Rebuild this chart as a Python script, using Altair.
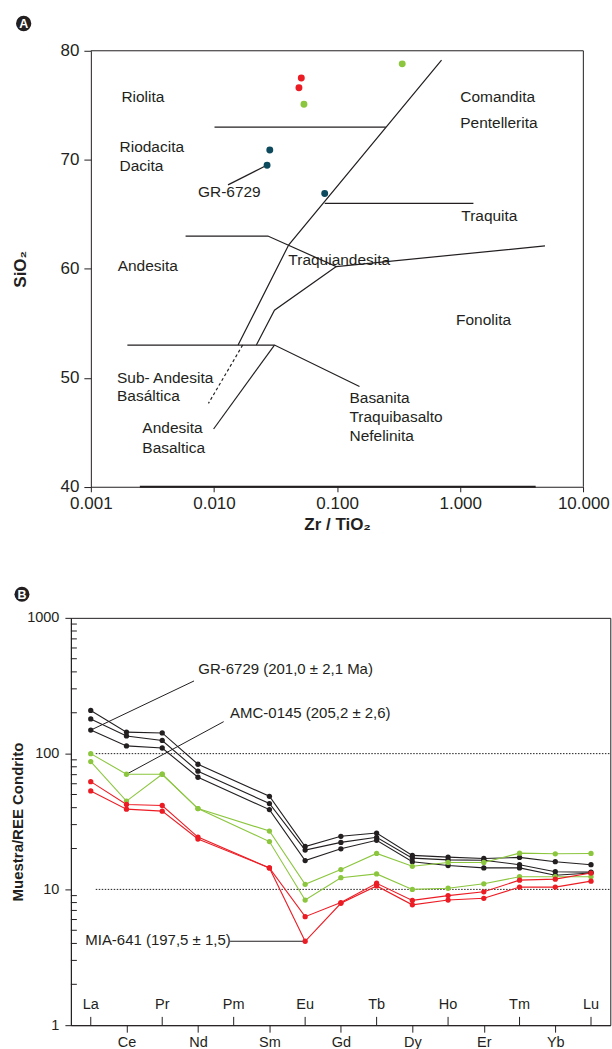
import json
import altair as alt
import pandas as pd

FONT = "Liberation Sans"
INK = "#231f20"
RED = "#ec1c24"
GREEN = "#8cc63f"
TEAL = "#0d4a5e"

# ---------------- Panel A : SiO2 vs Zr/TiO2 ----------------
a_zr_tio2 = [0.0512, 0.0490, 0.0538, 0.338, 0.0284, 0.0270, 0.0793]
a_sio2 = [77.5, 76.6, 75.1, 78.8, 70.9, 69.5, 66.9]
a_sample = ["MIA-641", "MIA-641", "AMC-0145", "AMC-0145", "GR-6729", "GR-6729", "GR-6729"]

line_riolita_x = [0.0101, 0.249]
line_riolita_y = [73.0, 73.0]
line_main_x = [0.705, 0.0405, 0.0157]
line_main_y = [79.15, 62.2, 53.0]
line_traquita_x = [0.0793, 1.28]
line_traquita_y = [66.0, 66.0]
line_andesita_x = [0.00588, 0.0274, 0.0985, 4.88]
line_andesita_y = [63.0, 63.0, 60.2, 62.1]
line_fonolita_x = [0.0985, 0.0310, 0.0221]
line_fonolita_y = [60.2, 56.2, 53.0]
line_basanita_x = [0.00198, 0.0310, 0.152]
line_basanita_y = [53.0, 53.0, 49.2]
line_basaltica_x = [0.0310, 0.00993]
line_basaltica_y = [53.0, 45.3]
leader_gr_x = [0.0130, 0.0259]
leader_gr_y = [67.7, 69.4]
dashed_x = [0.0171, 0.00902]
dashed_y = [53.0, 47.65]

region_text = ["Riolita", "Comandita", "Pentellerita", "Riodacita", "Dacita", "GR-6729",
               "Traquita", "Andesita", "Traquiandesita", "Fonolita", "Sub- Andesita",
               "Basáltica", "Andesita", "Basaltica", "Basanita", "Traquibasalto", "Nefelinita"]
region_x = [0.00177, 1.0, 1.0, 0.00171, 0.00171, 0.00741, 1.02, 0.00165, 0.0402, 0.925,
            0.00163, 0.00163, 0.00262, 0.00262, 0.126, 0.126, 0.126]
region_y = [75.8, 75.8, 73.4, 71.15, 69.4, 67.0, 64.8, 60.25, 60.8, 55.3,
            49.96, 48.3, 45.35, 43.6, 48.15, 46.4, 44.7]

a_xticks = [0.001, 0.01, 0.1, 1, 10]
a_yticks = [40, 50, 60, 70, 80]

# ---------------- Panel B : REE spider diagram ----------------
ree = ["La", "Ce", "Pr", "Nd", "Pm", "Sm", "Eu", "Gd", "Tb", "Dy", "Ho", "Er", "Tm", "Yb", "Lu"]
gr_1 = [208, 144, 142, 83.5, None, 48.5, 20.7, 24.6, 26.0, 17.8, 17.3, 16.9, 17.2, 16.0, 15.2]
gr_2 = [180, 135, 125, 74.2, None, 42.9, 19.5, 22.2, 24.2, 17.0, 16.5, 16.4, 15.2, 13.5, 13.4]
gr_3 = [149, 114, 110, 67.0, None, 38.7, 16.3, 19.9, 23.0, 16.0, 15.0, 14.4, 14.4, 12.7, 13.2]
amc_1 = [100, 70.5, 70.5, 39.4, None, 26.9, 10.9, 14.0, 18.4, 14.8, 15.8, 15.8, 18.5, 18.3, 18.4]
amc_2 = [87.3, 44.7, 70.5, 39.4, None, 22.5, 8.35, 12.2, 13.0, 10.0, 10.2, 11.0, 12.4, 12.4, 12.4]
mia_1 = [62.2, 42.2, 41.5, 24.3, None, 14.4, 6.3, 8.0, 11.1, 8.3, 9.0, 9.6, 11.7, 11.9, 13.2]
mia_2 = [53.1, 39.0, 37.7, 23.5, None, 14.4, 4.15, 7.9, 10.6, 7.7, 8.35, 8.6, 10.4, 10.4, 11.5]

b_minor_ticks = [m * d for d in (1, 10, 100) for m in range(2, 10)]
b_ref_levels = [100, 10]
b_ref_start = 0.14

ann_text = ["GR-6729 (201,0 ± 2,1 Ma)", "AMC-0145 (205,2 ± 2,6)", "MIA-641 (197,5 ± 1,5)"]
ann_idx = [3.01, 3.90, -0.154]
ann_val = [418, 198, 4.24]
leader_id = ["GR", "GR", "AMC", "AMC", "MIA", "MIA"]
leader_idx = [2.89, 0.0, 3.72, 1.0, 3.90, 6.0]
leader_val = [343, 149, 172, 70.5, 4.15, 4.15]

# ---------------- geometry ----------------
WA, HA, OFFA = 513.3, 436.7, 20
WB, HB = 540.3, 408
B_LO, B_HI = -0.556, 14.54

# ================= Panel A =================
pts_a = pd.DataFrame({"x": a_zr_tio2, "y": a_sio2, "sampleA": a_sample})

segs = {
    "riolita": (line_riolita_x, line_riolita_y),
    "main": (line_main_x, line_main_y),
    "traquita": (line_traquita_x, line_traquita_y),
    "andesita": (line_andesita_x, line_andesita_y),
    "fonolita": (line_fonolita_x, line_fonolita_y),
    "basanita": (line_basanita_x, line_basanita_y),
    "basaltica": (line_basaltica_x, line_basaltica_y),
    "leader": (leader_gr_x, leader_gr_y),
}
rows = []
for name, (xs, ys) in segs.items():
    for i, (x, y) in enumerate(zip(xs, ys)):
        rows.append({"seg": name, "ord": i, "x": x, "y": y})
seg_df = pd.DataFrame(rows)
dash_df = pd.DataFrame({"x": dashed_x, "y": dashed_y, "ord": [0, 1]})
labels_a = pd.DataFrame({"x": region_x, "y": region_y, "t": region_text})
frame_a = pd.DataFrame({"x": [a_xticks[0], a_xticks[-1]], "x2": [a_xticks[-1], a_xticks[-1]],
                        "y": [a_yticks[-1], a_yticks[0]], "y2": [a_yticks[-1], a_yticks[-1]]})
thick_a = pd.DataFrame({"x": [0.0025], "x2": [4.1], "y": [40]})

axA_x = alt.Axis(values=a_xticks, format=".3f", labelFontSize=17, labelColor=INK,
                 tickColor=INK, domainColor=INK, tickSize=5, labelPadding=4,
                 labelFlush=False, labelOverlap=False, grid=False,
                 title="Zr / TiO₂", titleFontSize=17, titleFontWeight="bold",
                 titleColor=INK, titleY=43.3, titleBaseline="alphabetic")
axA_y = alt.Axis(values=a_yticks, labelFontSize=17, labelColor=INK, tickColor=INK,
                 domainColor=INK, tickSize=7, labelPadding=5, labelFlush=False,
                 grid=False, offset=-OFFA,
                 title="SiO₂", titleFontSize=17, titleFontWeight="bold", titleColor=INK,
                 titleX=-65.7, titleY=HA / 2, titleAngle=270, titleAlign="center",
                 titleBaseline="alphabetic")
xA = alt.X("x:Q", scale=alt.Scale(type="log", domain=[0.001, 10], range=[OFFA, WA], nice=False), axis=axA_x)
yA = alt.Y("y:Q", scale=alt.Scale(domain=[40, 80], nice=False, zero=False), axis=axA_y)

a_frame = alt.Chart(frame_a).mark_rule(color=INK, strokeWidth=1).encode(x=xA, x2="x2:Q", y=yA, y2="y2:Q")
a_thick = alt.Chart(thick_a).mark_rule(color=INK, strokeWidth=2.2).encode(x=xA, x2="x2:Q", y=yA)
a_lines = alt.Chart(seg_df).mark_line(color=INK, strokeWidth=1.2).encode(
    x=xA, y=yA, detail="seg:N", order="ord:Q")
a_dash = alt.Chart(dash_df).mark_line(color=INK, strokeWidth=1.2, strokeDash=[3, 2.5]).encode(
    x=xA, y=yA, order="ord:Q")
a_pts = alt.Chart(pts_a).mark_circle(size=48, opacity=1).encode(
    x=xA, y=yA,
    color=alt.Color("sampleA:N", scale=alt.Scale(domain=["MIA-641", "AMC-0145", "GR-6729"],
                                                 range=[RED, GREEN, TEAL]), legend=None))
a_text = alt.Chart(labels_a).mark_text(align="left", baseline="middle", fontSize=15.5, color=INK).encode(
    x=xA, y=yA, text="t:N")
badge_a_df = pd.DataFrame({"t": ["A"]})
a_badge = alt.Chart(badge_a_df).mark_circle(size=235, color=INK, opacity=1).encode(
    x=alt.value(-47.3), y=alt.value(-27.3))
a_badge_t = alt.Chart(badge_a_df).mark_text(color="white", fontWeight="bold", fontSize=12.5,
                                            align="center", baseline="middle").encode(
    x=alt.value(-47.3), y=alt.value(-26.8), text="t:N")
a_marker = alt.Chart(badge_a_df).mark_rule(strokeOpacity=0, strokeWidth=1).encode(
    x=alt.value(-70.2), x2=alt.value(-60), y=alt.value(-49.5), y2=alt.value(-49.5))

chart_a = alt.layer(a_frame, a_thick, a_lines, a_dash, a_pts, a_text, a_badge, a_badge_t, a_marker).properties(
    width=WA, height=HA, view=alt.ViewBackground(strokeOpacity=0))

# ================= Panel B =================
series = [("GR-6729", "gr_1", gr_1), ("GR-6729", "gr_2", gr_2), ("GR-6729", "gr_3", gr_3),
          ("AMC-0145", "amc_1", amc_1), ("AMC-0145", "amc_2", amc_2),
          ("MIA-641", "mia_1", mia_1), ("MIA-641", "mia_2", mia_2)]
rows = []
for grp, sid, vals in series:
    for i, v in enumerate(vals):
        if v is not None:
            rows.append({"grpB": grp, "sid": sid, "idx": i, "v": v})
ree_df = pd.DataFrame(rows)

ree_expr = json.dumps(ree)
axB_x = alt.Axis(values=list(range(1, len(ree), 2)), labelExpr=f"{ree_expr}[datum.value]",
                 tickSize=7, labelPadding=3, labelFontSize=14.5, labelColor=INK,
                 tickColor=INK, domainColor=INK, grid=False, title=None,
                 labelFlush=False)
axB_y = alt.Axis(values=[1, 10, 100, 1000], format="d", tickSize=6, labelPadding=6,
                 labelFontSize=14.5, labelColor=INK, tickColor=INK, domainColor=INK,
                 grid=False, labelFlush=False,
                 title="Muestra/REE Condrito", titleFontSize=15, titleFontWeight="bold",
                 titleColor=INK, titleX=-48, titleY=HB / 2, titleAngle=270,
                 titleAlign="center", titleBaseline="alphabetic")
xB = alt.X("idx:Q", scale=alt.Scale(domain=[B_LO, B_HI], nice=False, zero=False), axis=axB_x)
yB = alt.Y("v:Q", scale=alt.Scale(type="log", domain=[1, 1000], nice=False), axis=axB_y)
colB = alt.Color("grpB:N", scale=alt.Scale(domain=["GR-6729", "AMC-0145", "MIA-641"],
                                           range=[INK, GREEN, RED]), legend=None)

ref_df = pd.DataFrame({"idx": [b_ref_start] * len(b_ref_levels), "idx2": [B_HI] * len(b_ref_levels),
                       "v": b_ref_levels})
b_ref = alt.Chart(ref_df).mark_rule(color=INK, strokeWidth=1, strokeDash=[1.5, 1.5]).encode(
    x=xB, x2="idx2:Q", y=yB)
b_minor = alt.Chart(pd.DataFrame({"v": b_minor_ticks})).mark_rule(color=INK, strokeWidth=1).encode(
    y=yB, x=alt.value(0), x2=alt.value(6))
inner_df = pd.DataFrame({"idx": list(range(0, len(ree), 2)), "t": ree[0::2]})
b_inner_ticks = alt.Chart(inner_df).mark_rule(color=INK, strokeWidth=1).encode(
    x=xB, y=alt.value(HB - 8.3), y2=alt.value(HB))
b_inner_lab = alt.Chart(inner_df).mark_text(fontSize=14.5, color=INK, baseline="middle", align="center").encode(
    x=xB, y=alt.value(388), text="t:N")
lead_df = pd.DataFrame({"id": leader_id, "idx": leader_idx, "v": leader_val})
b_leaders = alt.Chart(lead_df).mark_line(color=INK, strokeWidth=1).encode(x=xB, y=yB, detail="id:N")
b_lines = alt.Chart(ree_df).mark_line(strokeWidth=1.1).encode(x=xB, y=yB, color=colB, detail="sid:N")
b_pts = alt.Chart(ree_df).mark_circle(size=28, opacity=1).encode(x=xB, y=yB, color=colB)
ann_df = pd.DataFrame({"idx": ann_idx, "v": ann_val, "t": ann_text})
b_ann = alt.Chart(ann_df).mark_text(align="left", baseline="middle", fontSize=15, color=INK).encode(
    x=xB, y=yB, text="t:N")
badge_b_df = pd.DataFrame({"t": ["B"]})
b_badge = alt.Chart(badge_b_df).mark_circle(size=225, color=INK, opacity=1).encode(
    x=alt.value(-49), y=alt.value(-23.7))
b_badge_t = alt.Chart(badge_b_df).mark_text(color="white", fontWeight="bold", fontSize=12.5,
                                            align="center", baseline="middle").encode(
    x=alt.value(-49), y=alt.value(-23.2), text="t:N")

chart_b = alt.layer(b_ref, b_minor, b_inner_ticks, b_inner_lab, b_leaders, b_lines, b_pts,
                    b_ann, b_badge, b_badge_t).properties(
    width=WB, height=HB, view=alt.ViewBackground(stroke=INK, strokeWidth=1))

chart = alt.vconcat(chart_a, chart_b, spacing=131, bounds="flush").resolve_scale(
    color="independent"
).properties(
    padding={"left": 0, "top": 0, "right": 0, "bottom": 0}
).configure(font=FONT).configure_view(stroke=INK, strokeWidth=1)

chart.save("out.html", embed_options={"renderer": "svg", "actions": False})
